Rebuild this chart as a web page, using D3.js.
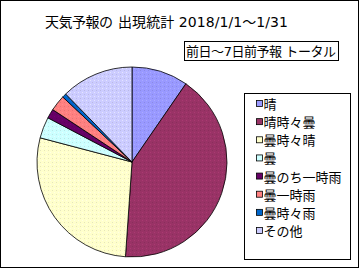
<!doctype html>
<html>
<head>
<meta charset="UTF-8">
<title>天気予報の出現統計</title>
<script src="https://d3js.org/d3.v7.min.js"></script>
<style>
	body { margin: 0; background: #fff; }
</style>
</head>
<body>
<svg class="chart" width="359" height="268"></svg>
<script>
var categories = ['晴', '晴時々曇', '曇時々晴', '曇', '曇のち一時雨', '曇一時雨', '曇時々雨', 'その他'];
var values = [9.6, 41.5, 28.0, 3.6, 1.6, 2.7, 0.7, 12.3];
var colors = ['#9999ff', '#993366', '#ffffcc', '#ccffff', '#660066', '#ff8080', '#0066cc', '#ccccff'];
var titleA = '天気予報の';
var titleB = '出現統計 2018/1/1～1/31';
var subtitle = '前日～7日前予報 トータル';
var font = '"DejaVu Sans", "Noto Sans CJK JP", sans-serif';

var svg = d3.select('.chart');

// outer frame
svg.append('rect')
	.attr('x', 0.5).attr('y', 0.5)
	.attr('width', 358).attr('height', 267)
	.attr('fill', '#fff').attr('stroke', '#000');

svg.append('text')
	.attr('x', 45).attr('y', 27)
	.attr('font-family', font)
	.attr('font-size', 14)
	.attr('textLength', 68)
	.attr('lengthAdjust', 'spacing')
	.text(titleA);
svg.append('text')
	.attr('x', 118).attr('y', 27)
	.attr('font-family', font)
	.attr('font-size', 14)
	.attr('textLength', 170)
	.attr('lengthAdjust', 'spacing')
	.text(titleB);

svg.append('rect')
	.attr('x', 184.5).attr('y', 41.5)
	.attr('width', 154).attr('height', 19)
	.attr('fill', '#fff').attr('stroke', '#000');
svg.append('text')
	.attr('x', 186).attr('y', 56)
	.attr('font-family', font)
	.attr('font-size', 13)
	.attr('textLength', 150)
	.attr('lengthAdjust', 'spacing')
	.text(subtitle);

// dot pattern for the slices
var defs = svg.append('defs');
colors.forEach(function(c, i) {
	var p = defs.append('pattern')
		.attr('id', 'pat' + i)
		.attr('patternUnits', 'userSpaceOnUse')
		.attr('width', 4).attr('height', 4);
	p.append('rect').attr('width', 4).attr('height', 4).attr('fill', c);
	p.append('rect').attr('x', 0).attr('y', 0).attr('width', 1).attr('height', 1)
		.attr('fill', d3.color(c).darker(0.6)).attr('opacity', 0.5);
	p.append('rect').attr('x', 2).attr('y', 2).attr('width', 1).attr('height', 1)
		.attr('fill', d3.color(c).brighter(0.6)).attr('opacity', 0.5);
});

var pie = d3.pie().sort(null).value(function(d) { return d; });
var arc = d3.arc().innerRadius(0).outerRadius(95);

var g = svg.append('g').attr('transform', 'translate(132,162)');
g.selectAll('path')
	.data(pie(values))
	.enter().append('path')
	.attr('d', arc)
	.attr('fill', function(d, i) { return 'url(#pat' + i + ')'; })
	.attr('stroke', '#000')
	.attr('stroke-width', 0.8);

// legend
svg.append('rect')
	.attr('x', 244.5).attr('y', 93.5)
	.attr('width', 106).attr('height', 166)
	.attr('fill', '#fff').attr('stroke', '#000');

var ly = d3.scalePoint().domain(categories).range([104, 231]);
var item = svg.selectAll('.leg')
	.data(categories)
	.enter().append('g')
	.attr('class', 'leg')
	.attr('transform', function(d) { return 'translate(0,' + ly(d) + ')'; });
item.append('rect')
	.attr('x', 256.5).attr('y', -3.5)
	.attr('width', 6).attr('height', 6)
	.attr('fill', function(d, i) { return colors[i]; })
	.attr('stroke', '#000')
	.attr('stroke-width', 0.8);
item.append('text')
	.attr('x', 263.5).attr('y', 5)
	.attr('font-family', font)
	.attr('font-size', 13)
	.text(function(d) { return d; });
</script>
</body>
</html>
